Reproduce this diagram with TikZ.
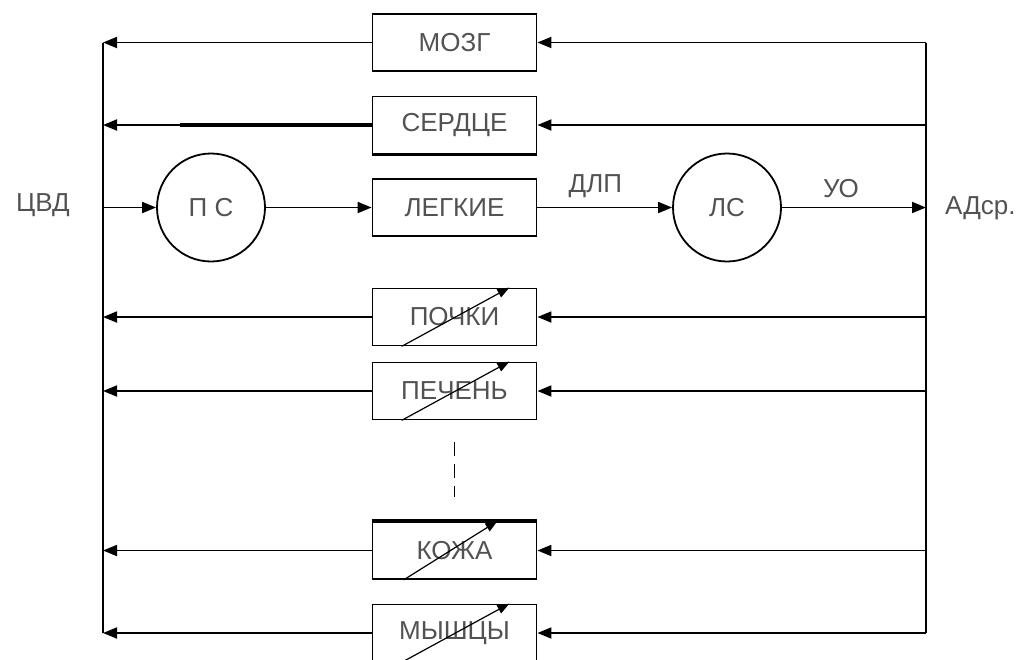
\documentclass[tikz,border=0pt]{standalone}
\usepackage{fontspec}
\setmainfont{Liberation Sans}
\usetikzlibrary{positioning, arrows.meta}

\begin{document}
\begin{tikzpicture}[
    x=0.5pt, y=-0.5pt,
    every node/.style={font=\fontsize{13}{15}\selectfont, text=black!68},
    organ/.style={draw, line width=0.9pt, minimum width=82pt, minimum height=28.5pt, inner sep=0pt},
    pump/.style={draw, circle, line width=0.9pt, minimum size=54pt, inner sep=0pt},
    arrow/.style={-{Triangle[length=7pt, width=5.5pt]}, line width=0.9pt},
    line/.style={line width=0.9pt},
    heavy/.style={line width=1.8pt},
    reg/.style={-{Triangle[length=6pt, width=4.5pt]}, line width=0.6pt}
]
    \useasboundingbox (0,0) rectangle (1026,659);

    % Органы
    \node[organ] (mozg)   at (454.5,42.5) {МОЗГ};
    \node[organ] (serdce) at (454.5,125)  {СЕРДЦЕ};
    \node[organ] (legkie) at (454.5,207.5) {ЛЕГКИЕ};
    \node[organ] (pochki) at (454.5,317)  {ПОЧКИ};
    \node[organ] (pechen) at (454.5,391)  {ПЕЧЕНЬ};
    \node[organ] (kozha)  at (454.5,550.5) {КОЖА};
    \node[organ] (myshcy) at (454.5,633)  {МЫШЦЫ};

    % Сердце: правое и левое
    \node[pump] (ps) at (211,207.5) {П С};
    \node[pump] (ls) at (727,207.5) {ЛС};

    % Подписи давлений
    \node (cvd) at (43,205) {ЦВД};
    \node (adsr) [anchor=west] at (938,208) {АДср.};

    % Шины
    \coordinate (lt) at (103,42.5);
    \coordinate (lb) at (103,633);
    \coordinate (rt) at (926,42.5);
    \coordinate (rb) at (926,633);
    \draw[line] (lt) -- (lb);
    \draw[line] (rt) -- (rb);

    % Малый круг
    \draw[arrow] (legkie.west -| lt) -- (ps);
    \draw[arrow] (ps) -- (legkie);
    \draw[arrow] (legkie) -- (ls) node[pos=0.43, above=1pt] {ДЛП};
    \draw[arrow] (ls) -- (legkie.east -| rt) node[pos=0.41, above=1pt] {УО};

    % Большой круг: к органам
    \draw[arrow] (mozg.east -| rt) -- (mozg.east);
    \draw[arrow] (serdce.east -| rt) -- (serdce.east);
    \draw[arrow] (pochki.east -| rt) -- (pochki.east);
    \draw[arrow] (pechen.east -| rt) -- (pechen.east);
    \draw[arrow] (kozha.east -| rt) -- (kozha.east);
    \draw[arrow] (myshcy.east -| rt) -- (myshcy.east);

    % Большой круг: от органов
    \draw[arrow] (mozg.west) -- (mozg.west -| lt);
    \draw[arrow] (serdce.west) -- (serdce.west -| lt);
    \draw[heavy] (serdce.west) -- ++(-192,0);
    \draw[heavy] (serdce.south west) -- (serdce.south east);
    \draw[arrow] (pochki.west) -- (pochki.west -| lt);
    \draw[arrow] (pechen.west) -- (pechen.west -| lt);
    \draw[arrow] (kozha.west) -- (kozha.west -| lt);
    \draw[heavy] (kozha.north west) -- (kozha.north east);
    \draw[arrow] (myshcy.west) -- (myshcy.west -| lt);

    % Регулируемые сопротивления
    \draw[reg] ([xshift=15pt]pochki.south west) -- ([xshift=-14pt]pochki.north east);
    \draw[reg] ([xshift=15pt]pechen.south west) -- ([xshift=-14pt]pechen.north east);
    \draw[reg] ([xshift=16pt]kozha.south west) -- ([xshift=-20pt]kozha.north east);
    \draw[reg] ([xshift=15pt]myshcy.south west) -- ([xshift=-14pt]myshcy.north east);

    % Пропуск
    \draw[line, dash pattern=on 7pt off 4pt] ([yshift=-11pt]pechen.south) -- ([yshift=12pt]kozha.north);

\end{tikzpicture}
\end{document}
